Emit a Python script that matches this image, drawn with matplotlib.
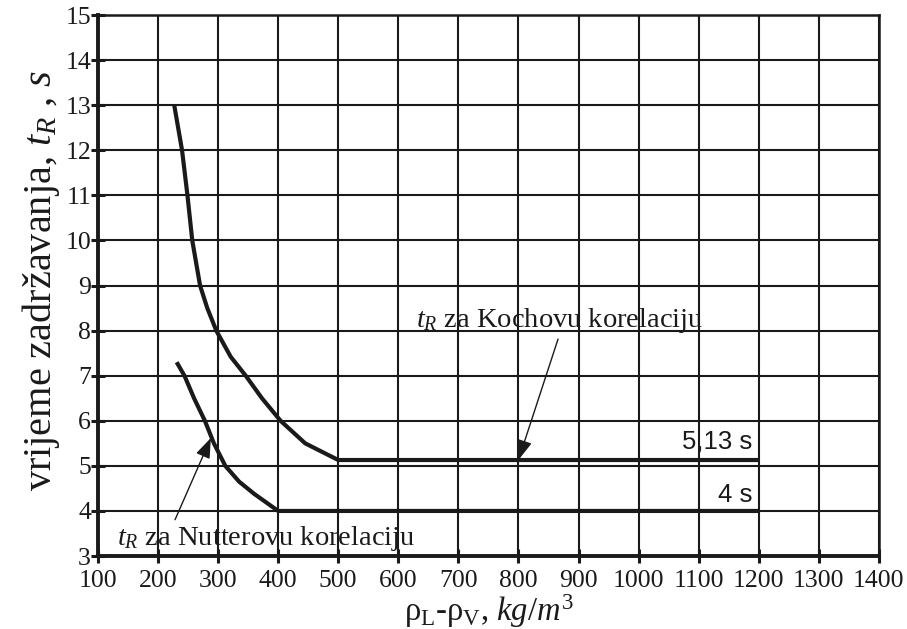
import matplotlib
matplotlib.use("Agg")
import matplotlib.pyplot as plt
import numpy as np

plt.rcParams["mathtext.fontset"] = "custom"
plt.rcParams["mathtext.it"] = "Liberation Serif:italic"
plt.rcParams["mathtext.rm"] = "Liberation Serif"
plt.rcParams["mathtext.default"] = "it"

# podaci ocitani s dijagrama
koch_x = [227, 240, 249, 257, 270, 282, 297, 321, 346, 373, 404, 445, 500, 1200]
koch_y = [13.0, 12.0, 11.0, 10.0, 9.0, 8.5, 8.0, 7.42, 7.0, 6.5, 6.0, 5.5, 5.13, 5.13]

nutter_x = [231, 244, 260, 278, 293, 312, 335, 360, 400, 1200]
nutter_y = [7.3, 7.0, 6.5, 6.0, 5.5, 5.0, 4.65, 4.38, 4.0, 4.0]

x_ticks = list(range(100, 1401, 100))
y_ticks = list(range(3, 16))

ink = "#1a1a1a"
serif = "Liberation Serif"

fig = plt.figure(figsize=(9.07, 6.29), dpi=100)
ax = fig.add_axes([0.108, 0.116, 0.861, 0.860])

ax.set_xlim(100, 1400)
ax.set_ylim(3, 15)
ax.set_xticks(x_ticks)
ax.set_yticks(y_ticks)
ax.grid(True, color=ink, linewidth=1.5)
ax.set_axisbelow(True)

for side in ["left", "bottom"]:
    ax.spines[side].set_linewidth(2.8)
for side in ["top", "right"]:
    ax.spines[side].set_linewidth(1.8)
for sp in ax.spines.values():
    sp.set_color(ink)

ax.tick_params(axis="both", direction="inout", length=10, width=2.2, color=ink,
               labelsize=18.5, labelcolor=ink)
ax.tick_params(axis="y", pad=0)
ax.tick_params(axis="x", pad=5)
for lab in ax.get_xticklabels() + ax.get_yticklabels():
    lab.set_fontfamily(serif)

ax.plot(koch_x, koch_y, color=ink, linewidth=3.0, solid_capstyle="butt", zorder=3)
ax.plot(nutter_x, nutter_y, color=ink, linewidth=3.0, solid_capstyle="butt", zorder=3)

arrow = dict(arrowstyle="-|>,head_length=0.6,head_width=0.22", color=ink,
             lw=1.0, shrinkA=1, shrinkB=0)
ax.annotate(r"$t_R$ za Kochovu korelaciju", xy=(800, 5.13), xytext=(629, 8.08),
            fontsize=20.5, family=serif, color=ink, ha="left", va="baseline",
            arrowprops=dict(arrow, relpos=(0.5, 0.0)), zorder=4)
ax.annotate(r"$t_R$ za Nutterovu korelaciju", xy=(288, 5.62), xytext=(131, 3.25),
            fontsize=20.5, family=serif, color=ink, ha="left", va="baseline",
            arrowprops=dict(arrow, relpos=(0.19, 1.0)), zorder=4)

ax.text(1190, 5.38, "5,13 s", fontsize=18.5, family="Liberation Sans", color=ink,
        ha="right", va="baseline")
ax.text(1190, 4.2, "4 s", fontsize=18.5, family="Liberation Sans", color=ink,
        ha="right", va="baseline")

ax.set_ylabel(r"vrijeme zadržavanja, $t_R$ , $s$", fontsize=29, family=serif, color=ink)
ax.yaxis.set_label_coords(-0.046, 0.51)
ax.set_xlabel(r"$\mathrm{\rho_L}$-$\mathrm{\rho_V}$, $kg/m^3$", fontsize=23.5, family=serif,
              color=ink, labelpad=0)

fig.savefig("out.png", dpi=100)
